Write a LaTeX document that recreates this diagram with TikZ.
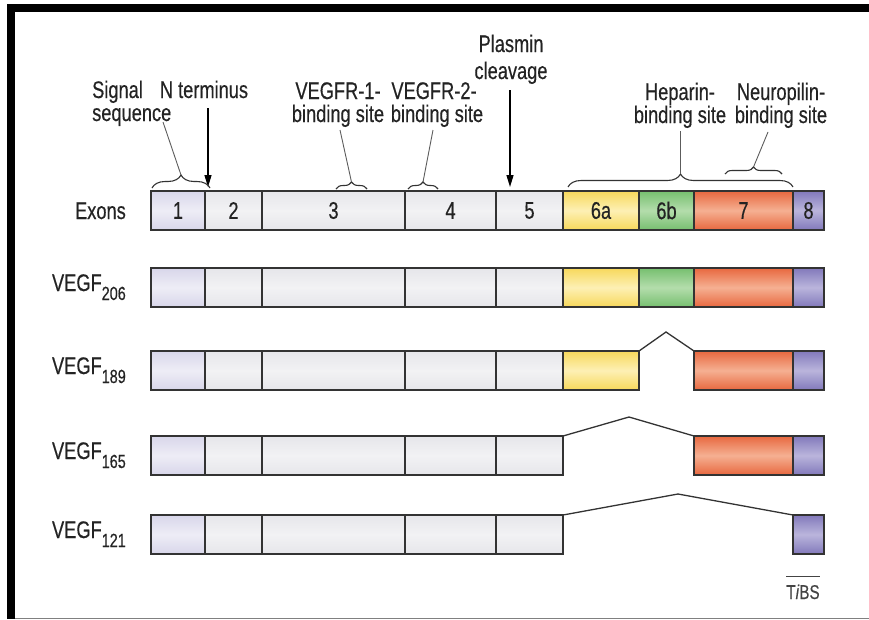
\documentclass[tikz,border=0pt]{standalone}
\usepackage{fontspec}
\newfontfamily\lab[FakeStretch=0.76,FakeBold=0.4]{Liberation Sans}
\usetikzlibrary{decorations.pathreplacing,arrows.meta}
\definecolor{txt}{HTML}{232323}
\definecolor{edge}{HTML}{333333}
\definecolor{lavA}{HTML}{D8D6EA}
\definecolor{lavB}{HTML}{EEEDF6}
\definecolor{gryA}{HTML}{E6E6EA}
\definecolor{gryB}{HTML}{F2F2F4}
\definecolor{yelA}{HTML}{F7D85B}
\definecolor{yelB}{HTML}{FDF0B4}
\definecolor{grnA}{HTML}{76BF6F}
\definecolor{grnB}{HTML}{B4DDAC}
\definecolor{orgA}{HTML}{E8683F}
\definecolor{orgB}{HTML}{F5B092}
\definecolor{purA}{HTML}{8279BB}
\definecolor{purB}{HTML}{BAB5DC}
\newcommand\vsub[1]{\raisebox{-9pt}{\fontsize{19}{19}\selectfont #1}}
\newcommand\ex[6]{\node[#5, minimum width={(#3-#2)*1pt}] (#1) at (#2,#4) {#6};}
\tikzset{
  lbl/.style={font=\lab\fontsize{24}{26}\selectfont, text=txt, inner sep=0pt, anchor=base},
  exbox/.style={draw=edge, line width=1.4pt, minimum height=39pt, inner sep=0pt,
    outer sep=0pt, anchor=north west, font=\lab\fontsize{24}{26}\selectfont, text=txt},
  eone/.style={exbox, top color=lavA, bottom color=lavA, middle color=lavB},
  egry/.style={exbox, top color=gryA, bottom color=gryA, middle color=gryB},
  eyel/.style={exbox, top color=yelA, bottom color=yelA, middle color=yelB},
  egrn/.style={exbox, top color=grnA, bottom color=grnA, middle color=grnB},
  eorg/.style={exbox, top color=orgA, bottom color=orgA, middle color=orgB},
  epur/.style={exbox, top color=purA, bottom color=purA, middle color=purB},
  brc/.style={draw=edge, line width=1.1pt, decorate, decoration={brace, amplitude=#1}},
  leader/.style={draw=edge!80, line width=0.9pt},
  junction/.style={draw=edge, line width=1.3pt},
  arr/.style={draw=black, line width=1.3pt, -{Triangle[length=12pt,width=7pt]}}
}
\begin{document}
\begin{tikzpicture}[x=1pt,y=-1pt]
\useasboundingbox (0,0) rectangle (869,619);
% frame
\fill[black] (7,4) rectangle (869,12);
\fill[black] (7,4) rectangle (15,619);
\draw[gray, line width=1.2pt] (15,618.3) -- (869,618.3);

% top labels
\node[lbl, anchor=base west] (sig1) at (92,98) {Signal};
\node[lbl, anchor=base west] (sig2) at (92,121) {sequence};
\node[lbl] (nterm) at (204,98) {N terminus};
\node[lbl] (r1a) at (338,99) {VEGFR-1-};
\node[lbl] (r1b) at (338,122) {binding site};
\node[lbl] (r2a) at (434,99) {VEGFR-2-};
\node[lbl] (r2b) at (437,122) {binding site};
\node[lbl] (pla) at (511,52) {Plasmin};
\node[lbl] (plb) at (511,79) {cleavage};
\node[lbl] (hpa) at (680,100) {Heparin-};
\node[lbl] (hpb) at (680,123) {binding site};
\node[lbl] (npa) at (781,100) {Neuropilin-};
\node[lbl] (npb) at (781,123) {binding site};

% arrows
\coordinate (ntA) at (208,108);
\coordinate (ntB) at (208,187);
\draw[arr] (ntA) -- (ntB);
\coordinate (plA) at (510,90);
\coordinate (plB) at (510,187);
\draw[arr] (plA) -- (plB);

% braces and leaders
\coordinate (sgL) at (152,188); \coordinate (sgR) at (210,188);
\draw[brc=13] (sgL) -- (sgR);
\coordinate (sgT) at (181,175); \coordinate (sgE) at (163,122);
\draw[leader] (sgE) -- (sgT);
\coordinate (v1L) at (336,189); \coordinate (v1R) at (367,189);
\draw[brc=7] (v1L) -- (v1R);
\coordinate (v1T) at (351.5,182); \coordinate (v1E) at (340,130);
\draw[leader] (v1E) -- (v1T);
\coordinate (v2L) at (408,189); \coordinate (v2R) at (438,189);
\draw[brc=7] (v2L) -- (v2R);
\coordinate (v2T) at (423,182); \coordinate (v2E) at (433,130);
\draw[leader] (v2E) -- (v2T);
\coordinate (hpL) at (568,187); \coordinate (hpR) at (793,187);
\draw[brc=13] (hpL) -- (hpR);
\coordinate (hpT) at (680.5,174); \coordinate (hpE) at (680.5,131);
\draw[leader] (hpE) -- (hpT);
\coordinate (npL) at (725,174); \coordinate (npR) at (782,174);
\draw[brc=7] (npL) -- (npR);
\coordinate (npT) at (753.5,167); \coordinate (npE) at (768,132);
\draw[leader] (npE) -- (npT);

% row labels
\node[lbl, anchor=base east] (lexon) at (126,219) {Exons};
\node[lbl, anchor=base east] (l206) at (126,291) {VEGF\vsub{206}};
\node[lbl, anchor=base east] (l189) at (126,374) {VEGF\vsub{189}};
\node[lbl, anchor=base east] (l165) at (126,459) {VEGF\vsub{165}};
\node[lbl, anchor=base east] (l121) at (126,538) {VEGF\vsub{121}};

% exons row
\ex{a1}{151}{205}{191}{eone}{1}
\ex{a2}{205}{262}{191}{egry}{2}
\ex{a3}{262}{405}{191}{egry}{3}
\ex{a4}{405}{496}{191}{egry}{4}
\ex{a5}{496}{563}{191}{egry}{5}
\ex{a6}{563}{639}{191}{eyel}{6a}
\ex{a7}{639}{694}{191}{egrn}{6b}
\ex{a8}{694}{793}{191}{eorg}{7}
\ex{a9}{793}{824}{191}{epur}{8}

% VEGF206
\ex{b1}{151}{205}{268}{eone}{}
\ex{b2}{205}{262}{268}{egry}{}
\ex{b3}{262}{405}{268}{egry}{}
\ex{b4}{405}{496}{268}{egry}{}
\ex{b5}{496}{563}{268}{egry}{}
\ex{b6}{563}{639}{268}{eyel}{}
\ex{b7}{639}{694}{268}{egrn}{}
\ex{b8}{694}{793}{268}{eorg}{}
\ex{b9}{793}{824}{268}{epur}{}

% VEGF189
\ex{c1}{151}{205}{351}{eone}{}
\ex{c2}{205}{262}{351}{egry}{}
\ex{c3}{262}{405}{351}{egry}{}
\ex{c4}{405}{496}{351}{egry}{}
\ex{c5}{496}{563}{351}{egry}{}
\ex{c6}{563}{639}{351}{eyel}{}
\ex{c8}{694}{793}{351}{eorg}{}
\ex{c9}{793}{824}{351}{epur}{}
\coordinate (cpk) at (666,332);
\draw[junction] (c6.north east) -- (cpk) -- (c8.north west);

% VEGF165
\ex{d1}{151}{205}{436}{eone}{}
\ex{d2}{205}{262}{436}{egry}{}
\ex{d3}{262}{405}{436}{egry}{}
\ex{d4}{405}{496}{436}{egry}{}
\ex{d5}{496}{563}{436}{egry}{}
\ex{d8}{694}{793}{436}{eorg}{}
\ex{d9}{793}{824}{436}{epur}{}
\coordinate (dpk) at (629,417);
\draw[junction] (d5.north east) -- (dpk) -- (d8.north west);

% VEGF121
\ex{f1}{151}{205}{515}{eone}{}
\ex{f2}{205}{262}{515}{egry}{}
\ex{f3}{262}{405}{515}{egry}{}
\ex{f4}{405}{496}{515}{egry}{}
\ex{f5}{496}{563}{515}{egry}{}
\ex{f9}{793}{824}{515}{epur}{}
\coordinate (fpk) at (678,494);
\draw[junction] (f5.north east) -- (fpk) -- (f9.north west);

% TiBS
\node[font=\lab\fontsize{20}{20}\selectfont, text=txt!85, inner sep=0pt, anchor=base] (tibs) at (803,599) {T\textit{i}BS};
\draw[txt!85, line width=1pt] ([yshift=8pt]tibs.north west) -- ([yshift=8pt]tibs.north east);
\end{tikzpicture}
\end{document}
